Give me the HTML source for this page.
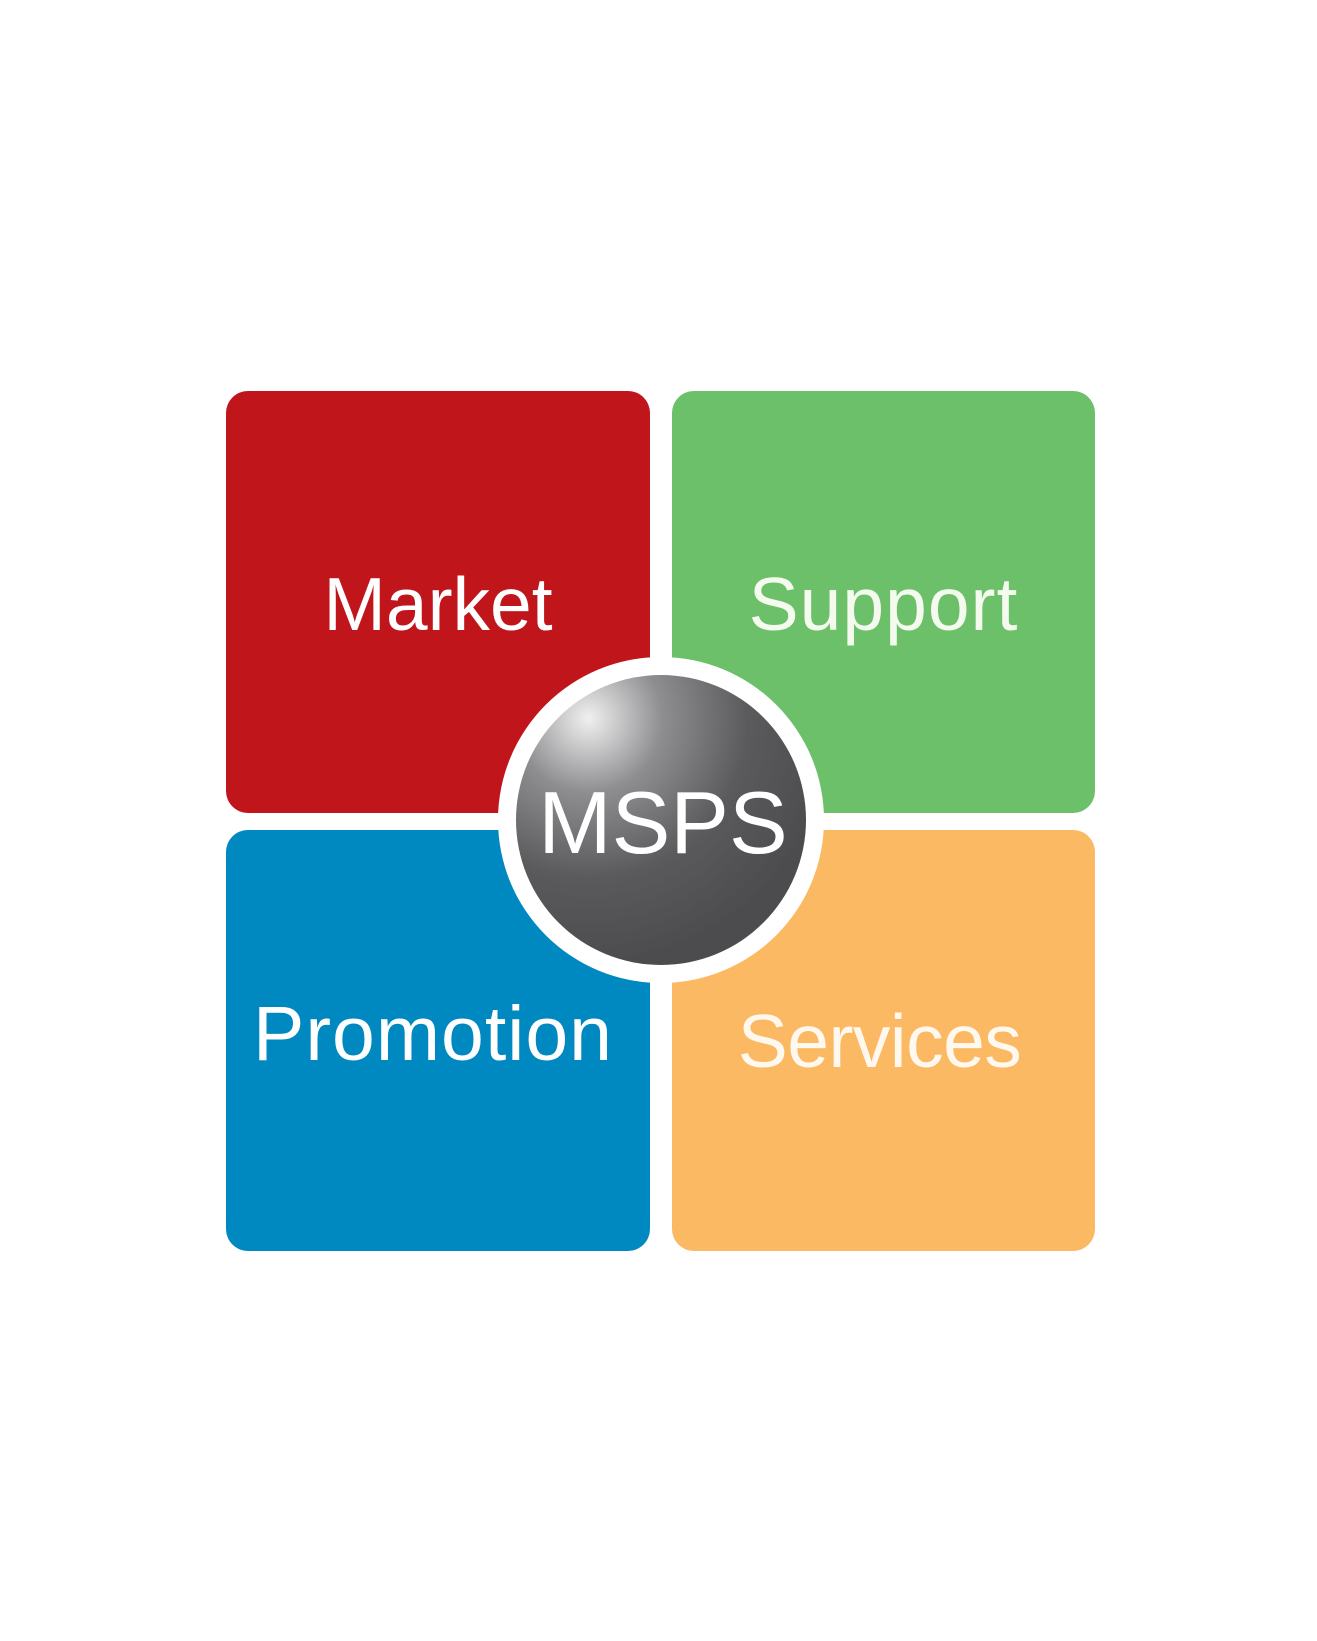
<!DOCTYPE html>
<html><head><style>
html,body{margin:0;padding:0;background:#fff;width:1317px;height:1641px;overflow:hidden}
.b{position:absolute;border-radius:22px;color:#fff;font-family:"Liberation Sans",sans-serif;font-size:75px}
.t{position:absolute;width:100%;text-align:center}
</style></head><body>
<div class="b" style="left:226px;top:391px;width:424px;height:422px;background:#c1151c"><div class="t" style="top:170px">Market</div></div>
<div class="b" style="left:672px;top:391px;width:423px;height:422px;background:#6cc06a;color:#f4fbee"><div class="t" style="top:170px;letter-spacing:1px">Support</div></div>
<div class="b" style="left:226px;top:830px;width:424px;height:421px;background:#0088c0"><div class="t" style="top:160px;left:-5px;font-size:77px;letter-spacing:1px">Promotion</div></div>
<div class="b" style="left:672px;top:830px;width:423px;height:421px;background:#fbb963;color:#fff8ee"><div class="t" style="top:168px;left:-4px;letter-spacing:-0.5px">Services</div></div>
<svg style="position:absolute;left:0;top:0" width="1317" height="1641">
<defs><radialGradient id="g" cx="0.25" cy="0.15" r="0.85">
<stop offset="0" stop-color="#f0f0f0"/><stop offset="0.3" stop-color="#8e8e91"/><stop offset="0.65" stop-color="#5a5a5d"/><stop offset="1" stop-color="#4c4c4f"/></radialGradient></defs>
<circle cx="661" cy="820" r="163" fill="#fff"/>
<circle cx="661" cy="820" r="145" fill="url(#g)"/>
<text x="663" y="853" text-anchor="middle" font-family="Liberation Sans, sans-serif" font-size="88" fill="#fff">MSPS</text>
</svg>
</body></html>
